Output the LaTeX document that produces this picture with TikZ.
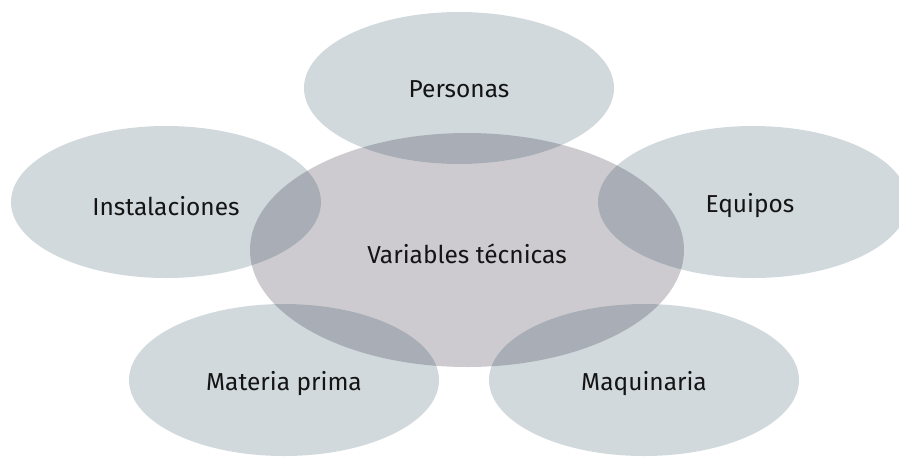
\documentclass[tikz,border=0pt]{standalone}
\usepackage{fontspec}
\setmainfont{Fira Sans}
\usetikzlibrary{shapes.geometric,calc}
\definecolor{outerc}{RGB}{209,217,221}
\definecolor{centc}{RGB}{205,203,208}
\definecolor{overc}{RGB}{169,174,182}
\definecolor{txtc}{RGB}{20,20,20}
\tikzset{
  outerell/.style={ellipse, fill=outerc, inner sep=0pt, minimum width=310pt, minimum height=152pt},
  centell/.style={ellipse, fill=centc, inner sep=0pt, minimum width=434pt, minimum height=234pt},
  lbl/.style={font=\fontsize{24.5}{28}\selectfont, text=txtc, inner sep=0pt}
}
\begin{document}
\begin{tikzpicture}[x=1pt,y=-1pt]
\useasboundingbox (0,0) rectangle (899,456);
\node[centell] (cent) at (467,250) {};
\node[outerell] (pers) at (459,88) {};
\node[outerell] (inst) at (166,202) {};
\node[outerell] (equi) at (753,202) {};
\node[outerell] (mate) at (284,380) {};
\node[outerell] (maqu) at (644,380) {};
\begin{scope}
  \clip (467,250) ellipse [x radius=217pt, y radius=117pt];
  \foreach \p in {(459,88),(166,202),(753,202),(284,380),(644,380)}
    \fill[overc] \p ellipse [x radius=155pt, y radius=76pt];
\end{scope}
\node[lbl] (tcent) at ($(cent)+(0,4)$) {Variables técnicas};
\node[lbl] (tpers) at ($(pers)+(0,1)$) {Personas};
\node[lbl] (tinst) at ($(inst)+(0,4)$) {Instalaciones};
\node[lbl] (tequi) at ($(equi)+(-3,4)$) {Equipos};
\node[lbl] (tmate) at ($(mate)+(0,4)$) {Materia prima};
\node[lbl] (tmaqu) at ($(maqu)+(0,4)$) {Maquinaria};
\end{tikzpicture}
\end{document}
